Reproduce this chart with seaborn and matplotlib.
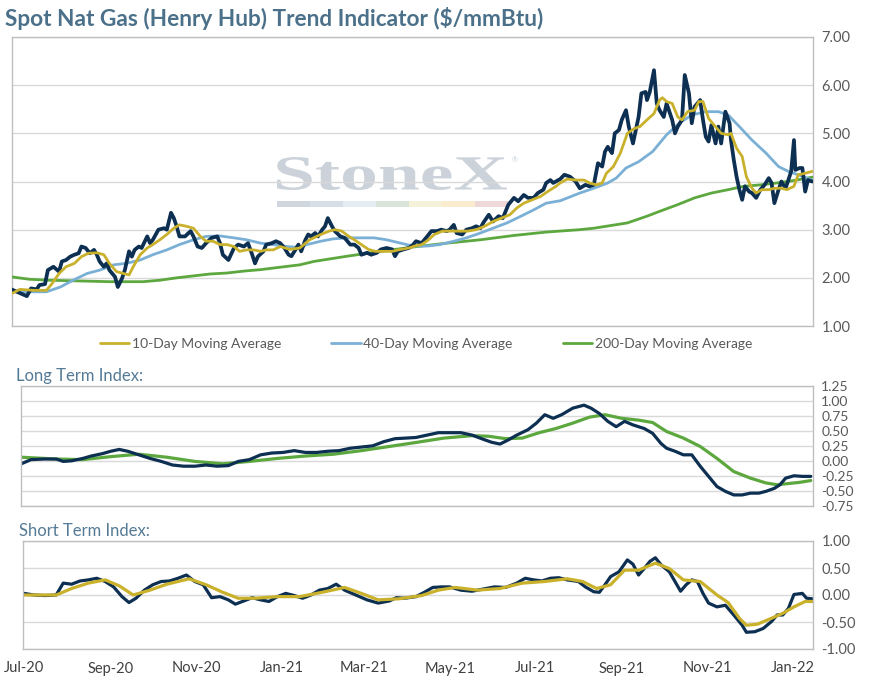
import matplotlib
matplotlib.use("Agg")
import matplotlib.pyplot as plt
import matplotlib.dates as mdates
from matplotlib.textpath import TextPath
from matplotlib.font_manager import FontProperties
from matplotlib.patches import PathPatch, Rectangle
from matplotlib.transforms import Affine2D
import seaborn as sns
import pandas as pd

# days counted from 1 Jul 2020
base = pd.Timestamp("2020-07-01")

spot_days = [-9, -5, -2, 2, 5, 9, 11, 15, 17, 21, 25, 27, 30, 33, 36, 39, 41, 44, 47, 50,
             52, 54, 57, 59, 61, 65, 67, 70, 72, 75, 77, 79, 82, 84, 88, 90, 92, 96, 100, 102,
             105, 107, 109, 111, 115, 119, 121, 124, 127, 130, 134, 138, 140, 142, 146, 150,
             153, 157, 160, 163, 165, 167, 171, 173, 177, 180, 183, 186, 189, 191, 194, 196,
             198, 201, 203, 205, 208, 210, 213, 215, 217, 220, 222, 226, 229, 233, 236, 239,
             241, 245, 248, 252, 255, 259, 263, 265, 267, 271, 275, 278, 280, 284, 288, 291,
             295, 298, 302, 304, 307, 309, 313, 316, 320, 323, 326, 328, 332, 335, 339, 342,
             346, 350, 353, 357, 360, 364, 367, 371, 373, 376, 378, 383, 386, 390, 394, 397,
             401, 404, 407, 410, 413, 415, 417, 420, 422, 425, 427, 430, 432, 435, 439, 441,
             444, 445, 447, 450, 452, 454, 457, 459, 463, 465, 467, 470, 472, 475, 477, 479,
             483, 485, 487, 489, 491, 494, 496, 498, 501, 504, 505, 507, 509, 511, 513, 515,
             518, 520, 523, 526, 529, 532, 534, 536, 539, 541, 544, 546, 548, 550, 551, 554,
             556, 558, 560, 563]
spot = [1.76, 1.71, 1.67, 1.62, 1.78, 1.76, 1.85, 1.87, 2.16, 2.23, 2.13, 2.34, 2.37, 2.44,
        2.48, 2.51, 2.65, 2.62, 2.51, 2.58, 2.48, 2.34, 2.23, 2.30, 2.16, 2.02, 1.81, 1.99,
        2.16, 2.55, 2.44, 2.58, 2.65, 2.62, 2.86, 2.72, 2.79, 3.00, 3.03, 3.00, 3.35, 3.24,
        3.07, 2.86, 2.86, 2.97, 2.86, 2.65, 2.62, 2.72, 2.83, 2.86, 2.72, 2.48, 2.37, 2.62,
        2.69, 2.65, 2.72, 2.48, 2.30, 2.44, 2.55, 2.69, 2.72, 2.76, 2.72, 2.62, 2.48, 2.45,
        2.59, 2.69, 2.55, 2.79, 2.90, 2.86, 2.93, 2.86, 3.00, 3.07, 3.24, 3.07, 2.97, 2.86,
        2.83, 2.69, 2.69, 2.62, 2.48, 2.52, 2.48, 2.52, 2.59, 2.62, 2.59, 2.45, 2.55, 2.59,
        2.62, 2.69, 2.76, 2.72, 2.86, 2.97, 2.97, 3.00, 2.97, 3.00, 3.10, 2.93, 2.90, 3.00,
        3.03, 3.07, 3.03, 3.14, 3.31, 3.17, 3.28, 3.24, 3.52, 3.66, 3.59, 3.72, 3.66, 3.66,
        3.76, 3.83, 3.97, 4.03, 3.97, 4.05, 4.14, 4.10, 4.00, 3.86, 3.93, 3.90, 3.93, 4.38,
        4.31, 4.62, 4.72, 4.59, 5.00, 5.07, 5.28, 5.48, 5.14, 4.79, 5.34, 5.83, 5.86, 5.69,
        5.86, 6.31, 5.62, 5.48, 5.34, 5.62, 5.28, 5.00, 5.14, 5.28, 6.21, 5.83, 5.21, 5.55,
        5.69, 5.28, 4.93, 4.83, 5.17, 4.79, 5.14, 4.79, 5.45, 5.21, 4.86, 4.45, 4.10, 3.83,
        3.62, 3.90, 3.79, 3.76, 3.66, 3.83, 3.93, 4.07, 3.97, 3.55, 3.83, 4.00, 3.86, 4.03,
        4.21, 4.86, 4.24, 4.28, 4.28, 3.79, 4.03, 4.00]

ma10_days = [-9, -3, 7, 16, 20, 25, 30, 36, 41, 46, 52, 57, 61, 66, 71, 75, 78, 83, 88, 92,
             97, 102, 107, 111, 116, 121, 126, 130, 135, 140, 145, 150, 154, 159, 164, 169,
             173, 178, 183, 190, 197, 204, 212, 218, 222, 227, 232, 236, 241, 246, 251, 257,
             263, 269, 275, 279, 284, 289, 293, 299, 305, 311, 317, 323, 329, 335, 341, 347,
             352, 357, 363, 369, 374, 380, 383, 388, 394, 400, 404, 409, 413, 416, 421, 426,
             431, 436, 440, 445, 450, 454, 456, 459, 463, 467, 470, 474, 479, 482, 485, 489,
             493, 498, 503, 505, 509, 513, 516, 520, 523, 527, 532, 536, 541, 545, 550, 553,
             558, 563]
ma10 = [1.67, 1.76, 1.74, 1.74, 1.88, 2.09, 2.23, 2.30, 2.44, 2.51, 2.52, 2.48, 2.30, 2.13,
        2.09, 2.06, 2.23, 2.48, 2.62, 2.69, 2.79, 2.90, 3.03, 3.10, 3.07, 3.03, 2.86, 2.76,
        2.76, 2.69, 2.69, 2.65, 2.55, 2.58, 2.58, 2.55, 2.58, 2.58, 2.65, 2.59, 2.62, 2.79,
        2.90, 2.97, 3.00, 2.97, 2.86, 2.79, 2.69, 2.59, 2.55, 2.55, 2.55, 2.59, 2.62, 2.66,
        2.69, 2.79, 2.90, 2.97, 2.97, 2.97, 2.97, 3.00, 3.07, 3.17, 3.24, 3.31, 3.45, 3.55,
        3.62, 3.69, 3.79, 3.90, 3.97, 4.05, 4.03, 4.03, 3.97, 3.93, 3.97, 4.17, 4.31, 4.59,
        5.00, 5.10, 5.14, 5.28, 5.41, 5.69, 5.74, 5.66, 5.62, 5.34, 5.28, 5.45, 5.48, 5.66,
        5.66, 5.31, 5.17, 5.00, 4.97, 5.00, 4.69, 4.52, 4.10, 3.86, 3.76, 3.83, 3.83, 3.86,
        3.86, 3.83, 3.90, 4.14, 4.17, 4.21]

ma40_days = [-9, 7, 16, 26, 35, 45, 54, 64, 73, 83, 92, 102, 111, 121, 130, 140, 150, 159,
             169, 178, 188, 197, 202, 212, 221, 231, 240, 250, 259, 269, 278, 288, 297, 307,
             316, 326, 335, 345, 355, 364, 373, 383, 397, 407, 417, 423, 430, 439, 449, 459,
             468, 477, 487, 496, 503, 511, 520, 530, 539, 546, 553, 563]
ma40 = [1.71, 1.71, 1.71, 1.81, 1.95, 2.09, 2.16, 2.27, 2.30, 2.37, 2.48, 2.58, 2.69, 2.79,
        2.86, 2.87, 2.83, 2.79, 2.72, 2.69, 2.65, 2.63, 2.69, 2.76, 2.81, 2.83, 2.83, 2.83,
        2.79, 2.72, 2.66, 2.66, 2.69, 2.76, 2.83, 2.93, 3.03, 3.14, 3.28, 3.41, 3.55, 3.60,
        3.76, 3.86, 3.97, 4.07, 4.28, 4.41, 4.62, 4.97, 5.21, 5.38, 5.45, 5.45, 5.38, 5.14,
        4.86, 4.59, 4.31, 4.21, 4.14, 4.03]

ma200_days = [-9, 4, 18, 33, 47, 61, 73, 85, 97, 109, 121, 133, 145, 157, 169, 180, 197,
              207, 231, 255, 278, 302, 326, 350, 373, 397, 407, 431, 445, 454, 467, 479, 491,
              503, 514, 526, 538, 550, 563]
ma200 = [2.02, 1.97, 1.95, 1.94, 1.93, 1.92, 1.92, 1.92, 1.95, 2.00, 2.04, 2.08, 2.10, 2.14,
         2.17, 2.21, 2.27, 2.34, 2.45, 2.55, 2.64, 2.72, 2.79, 2.88, 2.95, 3.00, 3.03, 3.14,
         3.28, 3.38, 3.52, 3.66, 3.76, 3.83, 3.90, 3.93, 3.97, 4.02, 4.09]

lt_days = [-2, 5, 15, 23, 28, 34, 42, 48, 56, 62, 68, 74, 82, 90, 98, 106, 114, 122, 130,
           138, 146, 153, 161, 169, 177, 185, 193, 201, 209, 217, 225, 233, 241, 249, 257,
           265, 273, 280, 288, 296, 304, 312, 320, 328, 334, 340, 346, 352, 360, 366, 372,
           378, 384, 392, 400, 405, 411, 417, 423, 429, 435, 443, 449, 455, 459, 465, 471,
           477, 483, 489, 495, 501, 507, 513, 519, 525, 530, 536, 540, 544, 550, 556, 562]
lt_index = [-0.05, 0.02, 0.03, 0.03, -0.01, 0.00, 0.04, 0.08, 0.12, 0.16, 0.19, 0.16, 0.10,
            0.04, -0.01, -0.07, -0.09, -0.09, -0.07, -0.09, -0.08, -0.01, 0.02, 0.10, 0.13,
            0.14, 0.17, 0.14, 0.14, 0.16, 0.17, 0.21, 0.23, 0.25, 0.32, 0.37, 0.38, 0.39,
            0.43, 0.47, 0.47, 0.47, 0.43, 0.36, 0.31, 0.28, 0.35, 0.43, 0.52, 0.63, 0.77,
            0.71, 0.77, 0.88, 0.93, 0.88, 0.79, 0.66, 0.57, 0.66, 0.60, 0.54, 0.46, 0.29,
            0.21, 0.16, 0.10, 0.10, -0.09, -0.26, -0.43, -0.51, -0.57, -0.57, -0.54, -0.54,
            -0.51, -0.46, -0.40, -0.29, -0.25, -0.26, -0.26]

lt_sig_days = [-2, 23, 42, 62, 82, 102, 122, 142, 161, 181, 201, 221, 241, 261, 281, 300,
               320, 332, 344, 356, 368, 380, 392, 404, 415, 427, 439, 449, 459, 471, 483,
               495, 507, 519, 530, 538, 546, 554, 562]
lt_signal = [0.06, 0.03, 0.02, 0.07, 0.11, 0.06, -0.01, -0.05, -0.01, 0.04, 0.08, 0.11,
             0.17, 0.24, 0.31, 0.38, 0.42, 0.41, 0.37, 0.38, 0.47, 0.54, 0.63, 0.73, 0.77,
             0.71, 0.68, 0.64, 0.49, 0.38, 0.24, 0.04, -0.18, -0.29, -0.37, -0.40, -0.38,
             -0.36, -0.33]

st_days = [0, 7, 15, 23, 28, 34, 40, 46, 52, 58, 64, 70, 75, 80, 86, 92, 98, 104, 110, 116,
           122, 128, 134, 140, 146, 151, 157, 163, 169, 175, 181, 187, 193, 199, 205, 211,
           217, 223, 229, 237, 245, 253, 261, 266, 272, 280, 286, 292, 298, 304, 312, 320,
           328, 336, 344, 352, 358, 364, 370, 376, 382, 388, 396, 401, 407, 411, 415, 419,
           425, 431, 435, 439, 443, 447, 451, 455, 461, 465, 469, 473, 477, 481, 485, 489,
           495, 501, 507, 513, 516, 522, 528, 534, 538, 542, 546, 550, 556, 559, 563]
st_index = [0.03, 0.00, -0.01, 0.00, 0.22, 0.20, 0.26, 0.28, 0.31, 0.25, 0.15, -0.03,
            -0.14, -0.06, 0.09, 0.19, 0.25, 0.26, 0.31, 0.37, 0.25, 0.19, -0.05, -0.03,
            -0.09, -0.17, -0.11, -0.05, -0.09, -0.12, -0.03, 0.03, -0.01, -0.06, 0.00,
            0.09, 0.12, 0.20, 0.09, 0.00, -0.09, -0.15, -0.11, -0.05, -0.06, -0.03, 0.05,
            0.14, 0.15, 0.15, 0.09, 0.07, 0.11, 0.15, 0.14, 0.22, 0.31, 0.28, 0.26, 0.31,
            0.32, 0.28, 0.25, 0.15, 0.06, 0.05, 0.19, 0.34, 0.43, 0.65, 0.57, 0.37, 0.49,
            0.62, 0.69, 0.56, 0.43, 0.25, 0.07, 0.19, 0.28, 0.25, 0.03, -0.15, -0.22, -0.19,
            -0.37, -0.56, -0.69, -0.68, -0.62, -0.49, -0.37, -0.37, -0.25, 0.01, 0.03,
            -0.06, -0.07]

st_sig_days = [0, 23, 34, 46, 58, 68, 78, 90, 102, 118, 130, 142, 153, 165, 181, 197, 213,
               229, 241, 253, 268, 284, 296, 308, 324, 340, 356, 372, 388, 399, 409, 419,
               429, 439, 451, 461, 471, 483, 495, 503, 511, 516, 524, 534, 542, 550, 558, 563]
st_signal = [0.00, 0.00, 0.12, 0.22, 0.28, 0.17, 0.00, 0.09, 0.20, 0.30, 0.19, 0.05, -0.06,
             -0.06, -0.03, -0.03, 0.05, 0.14, 0.03, -0.09, -0.07, -0.01, 0.09, 0.14, 0.09,
             0.12, 0.22, 0.25, 0.30, 0.25, 0.12, 0.19, 0.46, 0.46, 0.59, 0.49, 0.28, 0.25,
             0.00, -0.14, -0.43, -0.56, -0.54, -0.43, -0.34, -0.22, -0.12, -0.12]

legend_labels = ["10-Day Moving Average", "40-Day Moving Average", "200-Day Moving Average"]
title = "Spot Nat Gas (Henry Hub) Trend Indicator ($/mmBtu)"

NAVY = "#0c2f52"
GOLD = "#c9b12c"
BLUE = "#7bb0d6"
GREEN = "#5ca83f"
GRID = "#d9d9d9"
FRAME = "#bfbfbf"
TXT = "#595959"
HEAD = "#4b7089"


def to_dates(days):
    return base + pd.to_timedelta(days, unit="D")


def style_axes(ax, ticks, lo, hi, fmt="{:.2f}", size=10.5):
    ax.set_facecolor("none")
    ax.yaxis.tick_right()
    ax.set_ylim(lo, hi)
    ax.set_yticks(ticks)
    ax.set_yticklabels([fmt.format(t) for t in ticks])
    ax.grid(axis="y", color=GRID, lw=1)
    ax.grid(axis="x", visible=False)
    ax.tick_params(axis="y", length=0, pad=6, labelsize=size, labelcolor=TXT)
    ax.tick_params(axis="x", length=0, labelbottom=False)
    for s in ax.spines.values():
        s.set_color(FRAME)
        s.set_linewidth(1)
    ax.set_xlabel("")
    ax.set_ylabel("")


sns.set_theme(style="white")
plt.rcParams["font.family"] = ["Lato", "DejaVu Sans"]
plt.rcParams["axes.unicode_minus"] = False

W, H = 869, 680
fig = plt.figure(figsize=(W / 100, H / 100), dpi=100, facecolor="white")

ax1 = fig.add_axes([12 / W, 1 - 326 / H, 801 / W, 289 / H])
ax2 = fig.add_axes([20.7 / W, 1 - 505.7 / H, 792.3 / W, 119.7 / H])
ax3 = fig.add_axes([23.3 / W, 1 - 649 / H, 789.7 / W, 108 / H])

# watermark behind the price lines
tp = TextPath((0, 0), "StoneX", size=1, prop=FontProperties(family="Liberation Serif", weight="bold"))
ext = tp.get_extents()
tr = Affine2D().translate(-ext.x0, -ext.y0).scale(2.30 / ext.width, 0.33 / ext.height).translate(2.77, 4.90)
ax1.add_artist(PathPatch(tp, transform=tr + fig.dpi_scale_trans, facecolor="#c6ced6",
                         edgecolor="none", alpha=0.9, zorder=0.1))
stripe_colors = ["#cfd6dd", "#d6dfe8", "#e4edf4", "#d8e4d9", "#f6f2d9", "#fbebcf", "#efd8d8"]
for i, c in enumerate(stripe_colors):
    ax1.add_artist(Rectangle((2.77 + i * 0.33, 4.73), 0.33, 0.06, transform=fig.dpi_scale_trans,
                             facecolor=c, edgecolor="none", zorder=0.1))
fig.text(512 / W, 1 - 162 / H, "®", fontsize=5, color="#c6ced6")

# top panel
sns.lineplot(x=to_dates(ma200_days), y=ma200, ax=ax1, color=GREEN, lw=2.0, label=legend_labels[2], zorder=3)
sns.lineplot(x=to_dates(ma40_days), y=ma40, ax=ax1, color=BLUE, lw=2.0, label=legend_labels[1], zorder=3)
sns.lineplot(x=to_dates(spot_days), y=spot, ax=ax1, color=NAVY, lw=2.7, zorder=4)
sns.lineplot(x=to_dates(ma10_days), y=ma10, ax=ax1, color=GOLD, lw=2.0, label=legend_labels[0], zorder=5)
handles, labels = ax1.get_legend_handles_labels()
if ax1.get_legend() is not None:
    ax1.get_legend().remove()
order = [labels.index(l) for l in legend_labels]
fig.legend([handles[i] for i in order], [labels[i] for i in order], loc="center",
           bbox_to_anchor=(426 / W, 1 - 344 / H), ncol=3, frameon=False, fontsize=10,
           handlelength=2.1, handletextpad=0.2, columnspacing=3.6, labelcolor=TXT)
style_axes(ax1, [1, 2, 3, 4, 5, 6, 7], 1, 7)
ax1.set_xlim(to_dates([-8.6])[0], to_dates([563.6])[0])

# long term panel
sns.lineplot(x=to_dates(lt_sig_days), y=lt_signal, ax=ax2, color=GREEN, lw=2.3, legend=False)
sns.lineplot(x=to_dates(lt_days), y=lt_index, ax=ax2, color=NAVY, lw=2.3, legend=False)
style_axes(ax2, [-0.75, -0.5, -0.25, 0, 0.25, 0.5, 0.75, 1.0, 1.25], -0.75, 1.25, size=10)
ax2.set_xlim(to_dates([-2.4])[0], to_dates([563.6])[0])

# short term panel
sns.lineplot(x=to_dates(st_days), y=st_index, ax=ax3, color=NAVY, lw=2.3, legend=False)
sns.lineplot(x=to_dates(st_sig_days), y=st_signal, ax=ax3, color=GOLD, lw=2.3, legend=False)
style_axes(ax3, [-1.0, -0.5, 0, 0.5, 1.0], -1, 1)
ax3.set_xlim(to_dates([-0.5])[0], to_dates([563.6])[0])
ax3.xaxis.set_major_locator(mdates.MonthLocator(bymonth=[1, 3, 5, 7, 9, 11]))
ax3.xaxis.set_major_formatter(mdates.DateFormatter("%b-%y"))
ax3.tick_params(axis="x", labelbottom=True, labelsize=10.5, labelcolor="#404040", pad=9)

fig.text(5 / W, 1 - 18 / H, title, fontsize=16.3, fontweight="bold", color=HEAD, va="center")
fig.text(16 / W, 1 - 376 / H, "Long Term Index:", fontsize=12, color="#557a95", va="center")
fig.text(19 / W, 1 - 531 / H, "Short Term Index:", fontsize=12, color="#557a95", va="center")

fig.savefig("out.png", dpi=100, facecolor="white")
